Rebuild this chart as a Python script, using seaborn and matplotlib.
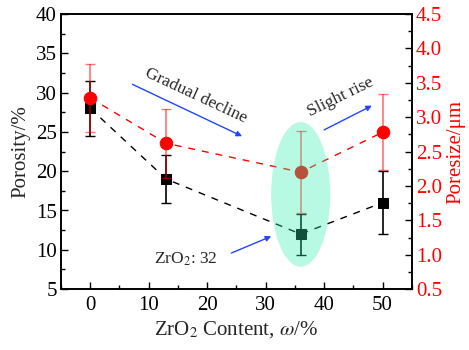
import matplotlib
matplotlib.use("Agg")
import matplotlib.pyplot as plt
import seaborn as sns
import numpy as np
import pandas as pd
from matplotlib.patches import Ellipse
from matplotlib.ticker import MultipleLocator

# Data
zro2 = [0, 13, 36, 50]
porosity = [28, 19, 12, 16]
porosity_err = [3.5, 3.0, 2.6, 4.0]
poresize = [3.28, 2.62, 2.2, 2.78]
poresize_err = [0.5, 0.5, 0.6, 0.55]

sns.set_theme(style="ticks")
plt.rcParams['font.family'] = ['Liberation Serif', 'DejaVu Serif']
plt.rcParams['mathtext.fontset'] = 'stix'

fig = plt.figure(figsize=(4.69, 3.5), dpi=100)
ax = fig.add_axes([0.130, 0.174, 0.748, 0.786])
ax2 = ax.twinx()

df = pd.DataFrame({"zro2": zro2, "porosity": porosity, "poresize": poresize})

# Porosity (left)
ax.errorbar(zro2, porosity, yerr=porosity_err, fmt='none', ecolor='black',
            elinewidth=1.2, capsize=3.5, capthick=1.0, zorder=2)
sns.lineplot(data=df, x="zro2", y="porosity", ax=ax, color='black',
             linestyle=(0, (5, 5)), linewidth=1.0, marker='s', markersize=7,
             markeredgecolor='black', markerfacecolor='black', zorder=3)

# Pore size (right)
ax2.errorbar(zro2, poresize, yerr=poresize_err, fmt='none', ecolor='red',
             elinewidth=1.2, capsize=3.5, capthick=1.0, alpha=0.55, zorder=2)
sns.lineplot(data=df, x="zro2", y="poresize", ax=ax2, color='red',
             linestyle=(0, (5, 5)), linewidth=1.0, marker='o', markersize=9,
             markeredgecolor='red', markerfacecolor='red', zorder=3)

# Highlight ellipse
ell = Ellipse((36, 17.05), width=10.1, height=18.4, transform=ax.transData,
              facecolor=(45/255, 240/255, 174/255), edgecolor='none', alpha=0.34, zorder=6)
ax2.add_patch(ell)

# Axes limits and ticks
ax.set_xlim(-5, 55)
ax.set_ylim(5, 40)
ax2.set_ylim(0.5, 4.5)
ax.xaxis.set_major_locator(MultipleLocator(10))
ax.xaxis.set_minor_locator(MultipleLocator(5))
ax.yaxis.set_major_locator(MultipleLocator(5))
ax.yaxis.set_minor_locator(MultipleLocator(2.5))
ax2.yaxis.set_major_locator(MultipleLocator(0.5))
ax2.yaxis.set_minor_locator(MultipleLocator(0.25))
ax2.set_yticks(np.arange(0.5, 4.51, 0.5))
ax2.set_yticklabels([f"{v:.1f}" for v in np.arange(0.5, 4.51, 0.5)])

ax.tick_params(axis='both', which='both', direction='in', top=False, right=False,
               labelsize=15, colors='black')
ax.tick_params(which='major', length=5, width=1.0)
ax.tick_params(which='minor', length=3, width=1.0)
ax.tick_params(axis='y', pad=3)
ax.tick_params(axis='x', pad=5)
ax2.tick_params(axis='y', which='both', direction='in', labelsize=15, labelcolor='red',
                color='black', pad=3)
ax2.tick_params(which='major', length=5, width=1.0)
ax2.tick_params(which='minor', length=3, width=1.0)

for a in (ax, ax2):
    for s in a.spines.values():
        s.set_linewidth(1.2)
        s.set_color('black')

ax.set_xlabel(r"ZrO$_2$ Content, $\omega$/%", fontsize=15, labelpad=3)
ax.set_ylabel("Porosity/%", fontsize=15, labelpad=4)
ax2.set_ylabel("Poresize/\u03bcm", fontsize=15, color='red', labelpad=3)

# Annotations
blue = '#2244ff'
arrowprops = dict(arrowstyle='-|>', color=blue, lw=1.0, mutation_scale=8)
ax2.annotate("", xy=(26.4, 24.3), xytext=(6.8, 31.2), xycoords=ax.transData,
             textcoords=ax.transData, arrowprops=arrowprops, zorder=7)
ax2.annotate("", xy=(48.6, 28.5), xytext=(39.6, 25.1), xycoords=ax.transData,
             textcoords=ax.transData, arrowprops=arrowprops, zorder=7)
ax2.annotate("", xy=(31.4, 11.85), xytext=(23.7, 9.45), xycoords=ax.transData,
             textcoords=ax.transData, arrowprops=arrowprops, zorder=7)

ax2.text(18.0, 29.6, "Gradual decline", transform=ax.transData, rotation=-25,
         ha='center', va='center', fontsize=12.5, rotation_mode='anchor', zorder=7)
ax2.text(42.9, 29.4, "Slight rise", transform=ax.transData, rotation=26,
         ha='center', va='center', fontsize=12.5, rotation_mode='anchor', zorder=7)
ax2.text(16.4, 8.8, r"ZrO$_2$: 32", transform=ax.transData,
         ha='center', va='center', fontsize=12.5, zorder=7)

ax.set_facecolor('white')
fig.savefig("out.png", dpi=100)
